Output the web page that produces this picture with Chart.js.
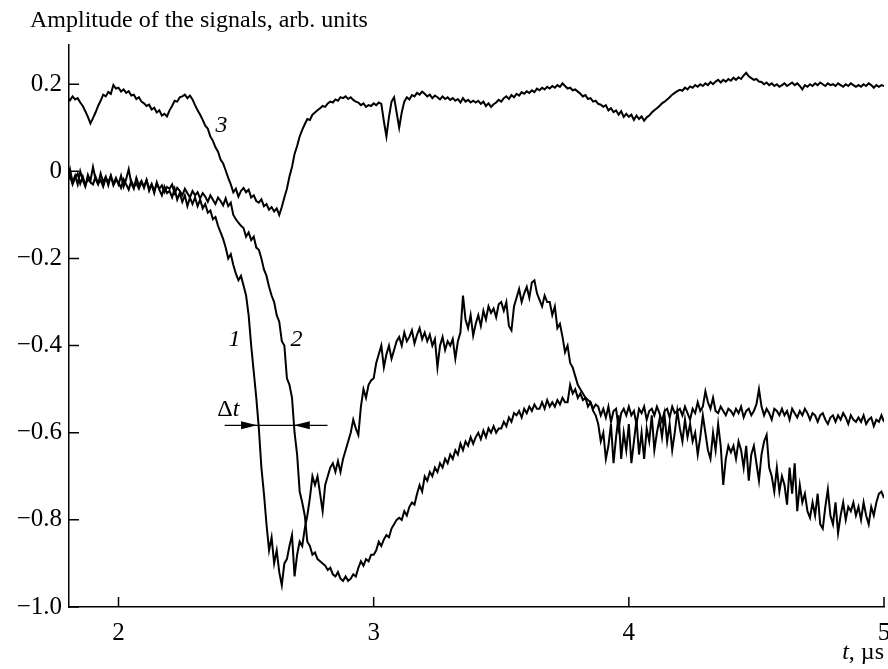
<!DOCTYPE html>
<html>
<head>
<meta charset="utf-8">
<script src="https://cdn.jsdelivr.net/npm/chart.js@4.4.1/dist/chart.umd.min.js"></script>
<style>
html, body { margin: 0; padding: 0; background: #fff; }
#wrap { width: 888px; height: 669px; }
</style>
</head>
<body>
<div id="wrap"><canvas id="chart" width="888" height="669"></canvas></div>
<script>
// time, µs (oscilloscope samples)
const times = [
  1.80, 1.81, 1.82, 1.83, 1.84, 1.85, 1.86, 1.87, 1.88, 1.89,
  1.90, 1.91, 1.92, 1.93, 1.94, 1.95, 1.96, 1.97, 1.98, 1.99,
  2.00, 2.01, 2.02, 2.03, 2.04, 2.05, 2.06, 2.07, 2.08, 2.09,
  2.10, 2.11, 2.12, 2.13, 2.14, 2.15, 2.16, 2.17, 2.18, 2.19,
  2.20, 2.21, 2.22, 2.23, 2.24, 2.25, 2.26, 2.27, 2.28, 2.29,
  2.30, 2.31, 2.32, 2.33, 2.34, 2.35, 2.36, 2.37, 2.38, 2.39,
  2.40, 2.41, 2.42, 2.43, 2.44, 2.45, 2.46, 2.47, 2.48, 2.49,
  2.50, 2.51, 2.52, 2.53, 2.54, 2.55, 2.56, 2.57, 2.58, 2.59,
  2.60, 2.61, 2.62, 2.63, 2.64, 2.65, 2.66, 2.67, 2.68, 2.69,
  2.70, 2.71, 2.72, 2.73, 2.74, 2.75, 2.76, 2.77, 2.78, 2.79,
  2.80, 2.81, 2.82, 2.83, 2.84, 2.85, 2.86, 2.87, 2.88, 2.89,
  2.90, 2.91, 2.92, 2.93, 2.94, 2.95, 2.96, 2.97, 2.98, 2.99,
  3.00, 3.01, 3.02, 3.03, 3.04, 3.05, 3.06, 3.07, 3.08, 3.09,
  3.10, 3.11, 3.12, 3.13, 3.14, 3.15, 3.16, 3.17, 3.18, 3.19,
  3.20, 3.21, 3.22, 3.23, 3.24, 3.25, 3.26, 3.27, 3.28, 3.29,
  3.30, 3.31, 3.32, 3.33, 3.34, 3.35, 3.36, 3.37, 3.38, 3.39,
  3.40, 3.41, 3.42, 3.43, 3.44, 3.45, 3.46, 3.47, 3.48, 3.49,
  3.50, 3.51, 3.52, 3.53, 3.54, 3.55, 3.56, 3.57, 3.58, 3.59,
  3.60, 3.61, 3.62, 3.63, 3.64, 3.65, 3.66, 3.67, 3.68, 3.69,
  3.70, 3.71, 3.72, 3.73, 3.74, 3.75, 3.76, 3.77, 3.78, 3.79,
  3.80, 3.81, 3.82, 3.83, 3.84, 3.85, 3.86, 3.87, 3.88, 3.89,
  3.90, 3.91, 3.92, 3.93, 3.94, 3.95, 3.96, 3.97, 3.98, 3.99,
  4.00, 4.01, 4.02, 4.03, 4.04, 4.05, 4.06, 4.07, 4.08, 4.09,
  4.10, 4.11, 4.12, 4.13, 4.14, 4.15, 4.16, 4.17, 4.18, 4.19,
  4.20, 4.21, 4.22, 4.23, 4.24, 4.25, 4.26, 4.27, 4.28, 4.29,
  4.30, 4.31, 4.32, 4.33, 4.34, 4.35, 4.36, 4.37, 4.38, 4.39,
  4.40, 4.41, 4.42, 4.43, 4.44, 4.45, 4.46, 4.47, 4.48, 4.49,
  4.50, 4.51, 4.52, 4.53, 4.54, 4.55, 4.56, 4.57, 4.58, 4.59,
  4.60, 4.61, 4.62, 4.63, 4.64, 4.65, 4.66, 4.67, 4.68, 4.69,
  4.70, 4.71, 4.72, 4.73, 4.74, 4.75, 4.76, 4.77, 4.78, 4.79,
  4.80, 4.81, 4.82, 4.83, 4.84, 4.85, 4.86, 4.87, 4.88, 4.89,
  4.90, 4.91, 4.92, 4.93, 4.94, 4.95, 4.96, 4.97, 4.98, 4.99,
  5.00
];

// curve 1
const signal1 = [
  -0.015, 0.005, -0.025, -0.010, -0.030, 0.000, -0.020, -0.035, -0.008, -0.022,
  0.010, -0.018, -0.030, -0.005, -0.025, -0.012, -0.032, -0.010, -0.028, -0.015,
  -0.030, -0.010, -0.035, -0.018, 0.005, -0.028, -0.040, -0.015, -0.032, -0.022,
  -0.038, -0.020, -0.045, -0.030, -0.050, -0.025, -0.042, -0.055, -0.035, -0.050,
  -0.045, -0.060, -0.040, -0.065, -0.050, -0.070, -0.055, -0.080, -0.060, -0.075,
  -0.060, -0.080, -0.065, -0.085, -0.075, -0.095, -0.090, -0.110, -0.105, -0.125,
  -0.140, -0.155, -0.175, -0.200, -0.190, -0.215, -0.235, -0.250, -0.240, -0.262,
  -0.285, -0.330, -0.400, -0.460, -0.520, -0.590, -0.680, -0.740, -0.810, -0.870,
  -0.840, -0.900, -0.870, -0.920, -0.950, -0.900, -0.890, -0.860, -0.835, -0.930,
  -0.880, -0.850, -0.860, -0.820, -0.790, -0.750, -0.700, -0.720, -0.700, -0.740,
  -0.780, -0.720, -0.700, -0.680, -0.670, -0.690, -0.665, -0.690, -0.660, -0.640,
  -0.620, -0.600, -0.570, -0.590, -0.605, -0.540, -0.500, -0.520, -0.490, -0.480,
  -0.475, -0.440, -0.420, -0.400, -0.450, -0.420, -0.400, -0.430, -0.410, -0.390,
  -0.380, -0.400, -0.370, -0.390, -0.380, -0.365, -0.395, -0.375, -0.360, -0.385,
  -0.370, -0.390, -0.375, -0.400, -0.385, -0.450, -0.400, -0.380, -0.410, -0.390,
  -0.400, -0.385, -0.430, -0.390, -0.370, -0.285, -0.340, -0.360, -0.330, -0.377,
  -0.350, -0.330, -0.355, -0.320, -0.340, -0.310, -0.325, -0.315, -0.335, -0.305,
  -0.300, -0.320, -0.300, -0.355, -0.365, -0.310, -0.290, -0.270, -0.300, -0.280,
  -0.265, -0.290, -0.255, -0.250, -0.280, -0.295, -0.310, -0.285, -0.300, -0.300,
  -0.330, -0.310, -0.360, -0.350, -0.380, -0.415, -0.400, -0.440, -0.450, -0.470,
  -0.490, -0.500, -0.510, -0.520, -0.525, -0.530, -0.550, -0.560, -0.580, -0.620,
  -0.600, -0.660, -0.630, -0.580, -0.670, -0.610, -0.560, -0.660, -0.600, -0.640,
  -0.580, -0.670, -0.620, -0.570, -0.650, -0.600, -0.660, -0.590, -0.620, -0.560,
  -0.640, -0.600, -0.570, -0.610, -0.560, -0.620, -0.580, -0.640, -0.600, -0.550,
  -0.590, -0.620, -0.570, -0.610, -0.580, -0.620, -0.600, -0.650, -0.610, -0.560,
  -0.600, -0.640, -0.660, -0.600, -0.640, -0.580, -0.630, -0.720, -0.660, -0.630,
  -0.645, -0.630, -0.660, -0.620, -0.640, -0.680, -0.630, -0.710, -0.650, -0.630,
  -0.670, -0.710, -0.650, -0.620, -0.605, -0.680, -0.700, -0.735, -0.680, -0.735,
  -0.700, -0.720, -0.765, -0.680, -0.740, -0.670, -0.780, -0.720, -0.760, -0.740,
  -0.780, -0.795, -0.760, -0.790, -0.740, -0.810, -0.820, -0.770, -0.730, -0.790,
  -0.810, -0.760, -0.830, -0.790, -0.760, -0.800, -0.770, -0.780, -0.760, -0.790,
  -0.770, -0.800, -0.760, -0.790, -0.810, -0.770, -0.790, -0.760, -0.740, -0.735,
  -0.750
];

// curve 2
const signal2 = [
  -0.025, -0.010, -0.030, -0.015, -0.005, -0.028, -0.012, -0.032, -0.018, -0.025,
  -0.030, -0.012, -0.028, -0.020, -0.035, -0.015, -0.025, -0.010, -0.032, -0.020,
  -0.025, -0.038, -0.018, -0.030, -0.042, -0.022, -0.035, -0.028, -0.040, -0.025,
  -0.035, -0.020, -0.040, -0.030, -0.045, -0.028, -0.040, -0.032, -0.048, -0.036,
  -0.040, -0.030, -0.050, -0.038, -0.045, -0.055, -0.040, -0.050, -0.060, -0.045,
  -0.055, -0.048, -0.062, -0.050, -0.058, -0.070, -0.055, -0.065, -0.075, -0.060,
  -0.068, -0.078, -0.062, -0.080, -0.072, -0.100, -0.110, -0.118, -0.125, -0.130,
  -0.150, -0.140, -0.158, -0.150, -0.175, -0.180, -0.200, -0.225, -0.240, -0.265,
  -0.285, -0.300, -0.330, -0.345, -0.390, -0.400, -0.475, -0.490, -0.520, -0.600,
  -0.650, -0.735, -0.760, -0.790, -0.850, -0.860, -0.880, -0.875, -0.890, -0.895,
  -0.900, -0.905, -0.915, -0.910, -0.925, -0.930, -0.920, -0.935, -0.940, -0.930,
  -0.940, -0.935, -0.925, -0.930, -0.910, -0.895, -0.905, -0.890, -0.895, -0.880,
  -0.880, -0.870, -0.850, -0.860, -0.845, -0.835, -0.840, -0.820, -0.810, -0.800,
  -0.795, -0.800, -0.780, -0.790, -0.770, -0.760, -0.765, -0.740, -0.720, -0.735,
  -0.700, -0.710, -0.690, -0.700, -0.680, -0.690, -0.670, -0.680, -0.660, -0.670,
  -0.650, -0.660, -0.640, -0.650, -0.625, -0.640, -0.620, -0.630, -0.610, -0.625,
  -0.610, -0.600, -0.615, -0.595, -0.610, -0.590, -0.600, -0.585, -0.600, -0.590,
  -0.590, -0.575, -0.585, -0.565, -0.575, -0.555, -0.560, -0.550, -0.565, -0.545,
  -0.555, -0.540, -0.550, -0.535, -0.545, -0.545, -0.530, -0.545, -0.525, -0.540,
  -0.530, -0.540, -0.525, -0.535, -0.520, -0.530, -0.530, -0.490, -0.510, -0.500,
  -0.520, -0.510, -0.525, -0.520, -0.540, -0.530, -0.545, -0.535, -0.540, -0.560,
  -0.545, -0.565, -0.540, -0.575, -0.550, -0.545, -0.590, -0.555, -0.545, -0.560,
  -0.540, -0.560, -0.550, -0.580, -0.545, -0.555, -0.540, -0.570, -0.550, -0.545,
  -0.560, -0.540, -0.555, -0.575, -0.550, -0.545, -0.565, -0.540, -0.555, -0.550,
  -0.545, -0.560, -0.540, -0.555, -0.570, -0.545, -0.555, -0.530, -0.550, -0.540,
  -0.505, -0.530, -0.545, -0.520, -0.550, -0.555, -0.540, -0.550, -0.560, -0.545,
  -0.550, -0.560, -0.545, -0.555, -0.540, -0.565, -0.550, -0.545, -0.560, -0.550,
  -0.535, -0.500, -0.540, -0.560, -0.545, -0.555, -0.570, -0.545, -0.550, -0.560,
  -0.545, -0.560, -0.550, -0.570, -0.545, -0.555, -0.565, -0.550, -0.560, -0.545,
  -0.555, -0.570, -0.555, -0.560, -0.575, -0.560, -0.555, -0.570, -0.580, -0.565,
  -0.560, -0.575, -0.560, -0.570, -0.555, -0.565, -0.580, -0.560, -0.570, -0.575,
  -0.565, -0.575, -0.560, -0.580, -0.570, -0.565, -0.585, -0.570, -0.575, -0.560,
  -0.575
];

// curve 3
const signal3 = [
  0.170, 0.163, 0.172, 0.165, 0.168, 0.158, 0.150, 0.138, 0.125, 0.110,
  0.122, 0.135, 0.150, 0.162, 0.176, 0.172, 0.182, 0.178, 0.198, 0.190,
  0.192, 0.183, 0.188, 0.180, 0.184, 0.174, 0.176, 0.166, 0.170, 0.160,
  0.156, 0.150, 0.153, 0.142, 0.146, 0.135, 0.140, 0.128, 0.132, 0.126,
  0.140, 0.150, 0.162, 0.160, 0.170, 0.172, 0.176, 0.168, 0.174, 0.165,
  0.152, 0.140, 0.130, 0.118, 0.105, 0.098, 0.080, 0.070, 0.055, 0.045,
  0.027, 0.018, 0.002, -0.015, -0.030, -0.048, -0.040, -0.058, -0.045, -0.038,
  -0.048, -0.042, -0.060, -0.055, -0.068, -0.072, -0.064, -0.080, -0.075, -0.088,
  -0.082, -0.092, -0.085, -0.100, -0.082, -0.060, -0.040, -0.012, 0.010, 0.040,
  0.058, 0.080, 0.095, 0.108, 0.120, 0.118, 0.130, 0.135, 0.140, 0.145,
  0.150, 0.148, 0.156, 0.160, 0.158, 0.165, 0.162, 0.170, 0.168, 0.172,
  0.166, 0.170, 0.164, 0.160, 0.158, 0.152, 0.156, 0.148, 0.152, 0.150,
  0.156, 0.152, 0.158, 0.155, 0.115, 0.080, 0.125, 0.160, 0.170, 0.135,
  0.100, 0.135, 0.160, 0.170, 0.165, 0.175, 0.172, 0.180, 0.176, 0.183,
  0.178, 0.172, 0.176, 0.168, 0.174, 0.170, 0.165, 0.172, 0.166, 0.170,
  0.164, 0.168, 0.162, 0.166, 0.158, 0.168, 0.160, 0.164, 0.158, 0.162,
  0.158, 0.162, 0.155, 0.160, 0.150, 0.156, 0.148, 0.154, 0.158, 0.164,
  0.160, 0.168, 0.172, 0.166, 0.175, 0.170, 0.178, 0.174, 0.182, 0.178,
  0.184, 0.180, 0.186, 0.182, 0.190, 0.186, 0.192, 0.188, 0.194, 0.190,
  0.196, 0.192, 0.198, 0.194, 0.202, 0.196, 0.190, 0.192, 0.186, 0.188,
  0.183, 0.178, 0.172, 0.175, 0.166, 0.168, 0.160, 0.162, 0.155, 0.153,
  0.148, 0.152, 0.140, 0.145, 0.136, 0.140, 0.130, 0.138, 0.125, 0.132,
  0.125, 0.130, 0.118, 0.128, 0.120, 0.126, 0.116, 0.124, 0.128, 0.135,
  0.140, 0.145, 0.150, 0.156, 0.160, 0.165, 0.170, 0.176, 0.180, 0.184,
  0.187, 0.185, 0.192, 0.188, 0.195, 0.192, 0.198, 0.194, 0.200, 0.196,
  0.202, 0.198, 0.205, 0.200, 0.206, 0.210, 0.204, 0.210, 0.206, 0.212,
  0.208, 0.215, 0.210, 0.216, 0.212, 0.220, 0.226, 0.218, 0.214, 0.210,
  0.212, 0.206, 0.205, 0.200, 0.204, 0.198, 0.202, 0.196, 0.200, 0.194,
  0.198, 0.202, 0.196, 0.200, 0.204, 0.198, 0.202, 0.196, 0.188, 0.198,
  0.194, 0.200, 0.196, 0.202, 0.198, 0.204, 0.200, 0.196, 0.202, 0.198,
  0.200, 0.196, 0.202, 0.198, 0.194, 0.200, 0.196, 0.202, 0.198, 0.194,
  0.198, 0.194, 0.200, 0.196, 0.202, 0.198, 0.192, 0.198, 0.194, 0.198,
  0.196
];

const xTicks = [2, 3, 4, 5];
const yTicks = [-1.0, -0.8, -0.6, -0.4, -0.2, 0, 0.2];
const yTickLabels = ['\u22121.0', '\u22120.8', '\u22120.6', '\u22120.4', '\u22120.2', '0', '0.2'];

const FONT = "'Liberation Serif', 'Times New Roman', serif";

function toPoints(values) {
    return values.map((v, i) => ({ x: times[i], y: v }));
}

// curve numbers, Δt marker and axis captions
const annotations = {
    id: 'annotations',
    afterDraw(chart) {
        const { ctx, chartArea, scales: { x, y } } = chart;
        ctx.save();
        ctx.strokeStyle = '#000';
        ctx.fillStyle = '#000';

        // ticks pointing inside the plot
        ctx.lineWidth = 1.5;
        ctx.beginPath();
        yTicks.forEach(v => {
            const py = y.getPixelForValue(v);
            ctx.moveTo(chartArea.left, py);
            ctx.lineTo(chartArea.left + 10, py);
        });
        xTicks.forEach(v => {
            const px = x.getPixelForValue(v);
            ctx.moveTo(px, chartArea.bottom);
            ctx.lineTo(px, chartArea.bottom - 10);
        });
        ctx.stroke();

        // Δt arrows
        const ay = y.getPixelForValue(-0.583);
        const xa = x.getPixelForValue(2.416);
        const xb = x.getPixelForValue(2.819);
        const tip1 = x.getPixelForValue(2.543);
        const tip2 = x.getPixelForValue(2.687);
        ctx.lineWidth = 1.3;
        ctx.beginPath();
        ctx.moveTo(xa, ay);
        ctx.lineTo(xb, ay);
        ctx.stroke();
        ctx.beginPath();
        ctx.moveTo(tip1, ay);
        ctx.lineTo(tip1 - 16, ay - 4);
        ctx.lineTo(tip1 - 16, ay + 4);
        ctx.closePath();
        ctx.moveTo(tip2, ay);
        ctx.lineTo(tip2 + 16, ay - 4);
        ctx.lineTo(tip2 + 16, ay + 4);
        ctx.closePath();
        ctx.fill();

        ctx.textBaseline = 'middle';
        ctx.textAlign = 'center';
        ctx.font = 'italic 24px ' + FONT;
        ctx.fillText('1', x.getPixelForValue(2.455), y.getPixelForValue(-0.386));
        ctx.fillText('2', x.getPixelForValue(2.698), y.getPixelForValue(-0.386));
        ctx.fillText('3', x.getPixelForValue(2.404), y.getPixelForValue(0.105));

        // Δt
        ctx.textAlign = 'left';
        const dx = x.getPixelForValue(2.387);
        const dy = y.getPixelForValue(-0.547);
        ctx.font = '24px ' + FONT;
        ctx.fillText('\u0394', dx, dy);
        const dw = ctx.measureText('\u0394').width;
        ctx.font = 'italic 24px ' + FONT;
        ctx.fillText('t', dx + dw, dy);

        // axis captions
        ctx.textBaseline = 'alphabetic';
        ctx.font = '24px ' + FONT;
        ctx.fillText('Amplitude of the signals, arb. units', 30, 27);

        const rest = ', \u00b5s';
        const restW = ctx.measureText(rest).width;
        ctx.font = 'italic 24px ' + FONT;
        const tW = ctx.measureText('t').width;
        const right = chartArea.right;
        ctx.fillText('t', right - restW - tW, 659);
        ctx.font = '24px ' + FONT;
        ctx.fillText(rest, right - restW, 659);
        ctx.restore();
    }
};

const lineStyle = {
    borderColor: '#000',
    borderWidth: 2,
    pointRadius: 0,
    tension: 0,
    fill: false
};

new Chart(document.getElementById('chart'), {
    type: 'line',
    data: {
        datasets: [
            { label: '1', data: toPoints(signal1), ...lineStyle },
            { label: '2', data: toPoints(signal2), ...lineStyle },
            { label: '3', data: toPoints(signal3), ...lineStyle }
        ]
    },
    options: {
        responsive: false,
        animation: false,
        layout: { padding: { top: 45, right: 4, bottom: 0, left: 0 } },
        plugins: {
            legend: { display: false },
            tooltip: { enabled: false },
            title: { display: false }
        },
        scales: {
            x: {
                type: 'linear',
                min: 1.806,
                max: 5,
                grid: { display: false, drawTicks: false },
                border: { display: true, color: '#000', width: 1.5 },
                ticks: {
                    color: '#000',
                    font: { family: FONT, size: 25 },
                    padding: 11,
                    maxRotation: 0,
                    autoSkip: false,
                    callback: v => String(v)
                },
                afterBuildTicks: s => { s.ticks = xTicks.map(v => ({ value: v })); },
                afterFit: s => { s.height = 62; s.paddingLeft = 0; s.paddingRight = 0; }
            },
            y: {
                type: 'linear',
                min: -1.0,
                max: 0.29,
                grid: { display: false, drawTicks: false },
                border: { display: true, color: '#000', width: 1.5 },
                ticks: {
                    color: '#000',
                    font: { family: FONT, size: 25 },
                    padding: 7,
                    autoSkip: false,
                    callback: (v, i) => yTickLabels[i]
                },
                afterBuildTicks: s => { s.ticks = yTicks.map(v => ({ value: v })); },
                afterFit: s => { s.width = 69; s.paddingTop = 0; s.paddingBottom = 0; }
            }
        }
    },
    plugins: [annotations]
});
</script>
</body>
</html>
